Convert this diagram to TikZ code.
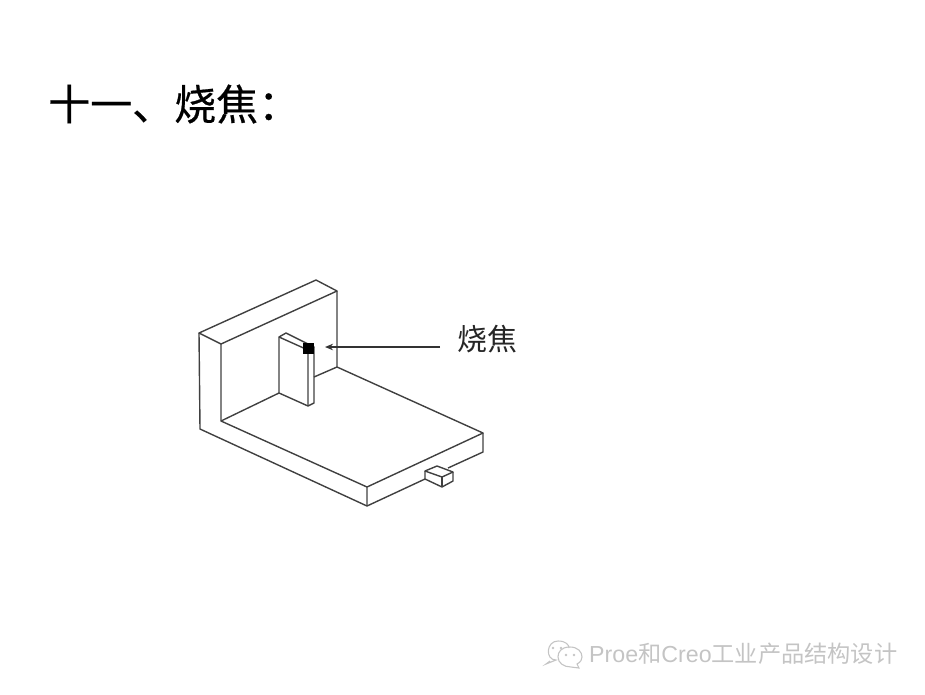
\documentclass[tikz,border=0pt]{standalone}
\usepackage{fontspec}
\setmainfont{Noto Sans CJK SC}
\newfontfamily\latinmark{Liberation Sans}
\newfontfamily\headfont[FakeBold = 0.5]{Noto Sans CJK SC}
\usetikzlibrary{arrows.meta}
\definecolor{partline}{HTML}{404040}
\definecolor{markgray}{HTML}{C4C4C4}
\tikzset{
  part/.style = {draw = partline, line width = 1.4pt, line join = round},
  burnmark/.style = {fill = black, minimum size = 11pt, inner sep = 0pt},
  callout/.style = {font = \fontsize{30}{30}\selectfont, text = black!85, inner sep = 0pt},
  heading/.style = {font = \fontsize{42}{42}\selectfont\headfont, text = black, inner sep = 0pt, anchor = west},
  logoline/.style = {draw = markgray, line width = 1.1pt},
}
\begin{document}
\begin{tikzpicture}[>={Stealth[length = 8pt, width = 6.5pt]}, x = 1pt, y = -1pt]
      \useasboundingbox (0,0) rectangle (925,694);

      \node[heading] (title) at (48,104) {十一、烧焦：};

      % wall
      \draw[part] (199,333) -- (316,280) -- (337,291) -- (221,344) -- cycle;
      \draw[part] (199,333) -- (200,429) -- (367,506);
      \draw[part] (221,344) -- (221,421) -- (367,487);
      \draw[part] (337,291) -- (337,367) -- (483,433) -- (367,487) -- (367,506);
      % floor
      \draw[part] (221,421) -- (279,393);
      \draw[part] (337,367) -- (314,377);
      \draw[part] (483,433) -- (483,452) -- (448,468);
      \draw[part] (367,506) -- (425,479);
      % post
      \draw[part] (279,393) -- (279,337) -- (286,333) -- (314,347) -- (314,403) -- (308,406) -- (279,393);
      \draw[part] (279,337) -- (308,350) -- (308,406);
      \draw[part] (308,350) -- (314,347);
      % small tab
      \draw[part] (425,471) -- (437,466) -- (453,472) -- (442,477) -- cycle;
      \draw[part] (425,471) -- (425,479) -- (442,487) -- (453,481) -- (453,472);
      \draw[part] (442,477) -- (442,487);

      \node[burnmark] (burn) at (308,348) {};
      \node[callout] (burnlabel) at (487,339) {烧焦};
      \coordinate (lead) at (440,347);
      \draw[->, draw = black!80, line width = 1.3pt, shorten > = 17pt] (lead) -- (burn.center |- lead);

      % watermark
      \draw[logoline] (550,661) -- (546,664) -- (556,660) .. controls (545,660) and (546,641) .. (558,641) .. controls (566,641) and (569,645) .. (569,648);
      \draw[logoline] (570,647) .. controls (561,647) and (558,652) .. (558,657) .. controls (558,663) and (564,667) .. (571,667) -- (579,668) -- (577,664) .. controls (581,662) and (582,659) .. (582,657) .. controls (582,652) and (578,647) .. (570,647);
      \foreach \dotx/\doty in {553/648, 561/648, 566/655, 574/655}
        \fill[markgray] (\dotx,\doty) circle [radius = 1.3pt];
      \node[text = markgray, inner sep = 0pt, anchor = west, font = \fontsize{23.2}{23.2}\selectfont] (mark) at (589,654) {{\latinmark Proe}和{\latinmark Creo}工业产品结构设计};
    \end{tikzpicture}
\end{document}
